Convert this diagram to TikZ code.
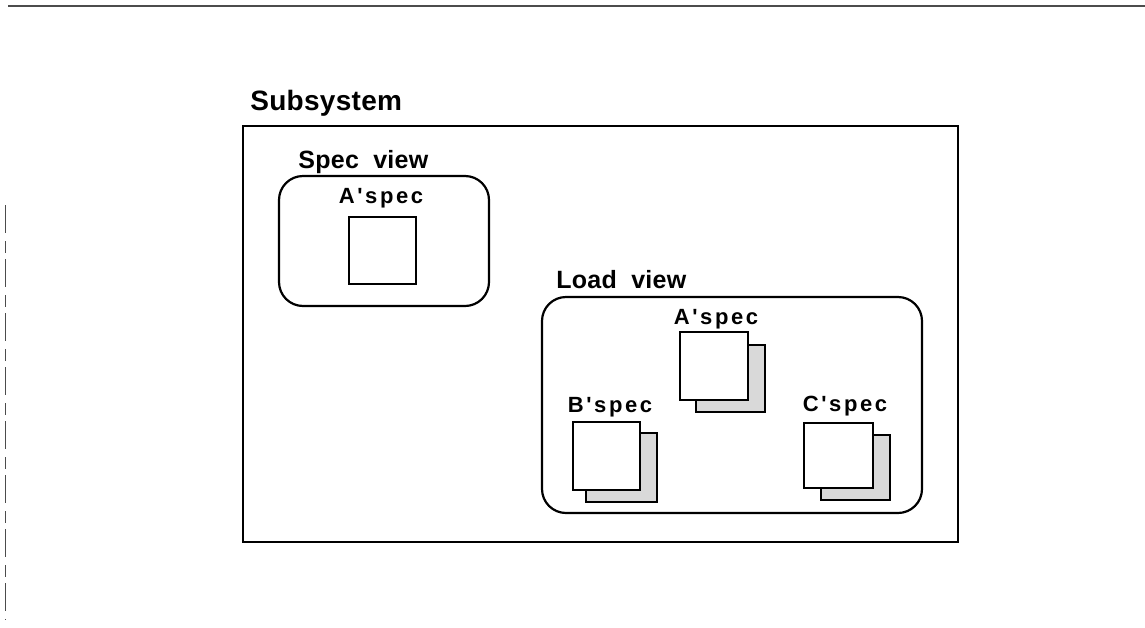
\documentclass[tikz,border=0pt]{standalone}
\usepackage{fontspec}
\setmainfont{Liberation Sans}
\newfontfamily\bigfont[LetterSpace=1]{Liberation Sans}
\newfontfamily\midfont[LetterSpace=1]{Liberation Sans}
\newfontfamily\smallfont[LetterSpace=12]{Liberation Sans}
\begin{document}
\begin{tikzpicture}[x=0.5pt,y=-0.5pt,
  frame/.style={draw=black,line width=1.1pt},
  view/.style={draw=black,line width=1.1pt,rounded corners=12pt},
  spec/.style={draw=black,line width=1.1pt,fill=white},
  shadow/.style={draw=black,line width=1.1pt,fill=gray!30},
  big/.style={font=\bigfont\fontsize{14}{16}\selectfont\bfseries,inner sep=0pt},
  mid/.style={font=\midfont\fontsize{12.5}{14}\selectfont\bfseries,inner sep=0pt},
  small/.style={font=\smallfont\fontsize{11}{13}\selectfont\bfseries,inner sep=0pt},
  scan/.style={draw=black!70,line width=0.5pt}]
\useasboundingbox (0,0) rectangle (1145,627);
% scan edges
\coordinate (t1) at (8,6); \coordinate (t2) at (1145,6);
\draw[scan,line width=0.8pt] (t1) -- (t2);
\coordinate (l1) at (5,205); \coordinate (l2) at (5,620);
\draw[scan,dash pattern=on 14pt off 4pt on 6pt off 3pt] (l1) -- (l2);
% outer frame
\coordinate (o1) at (243,126); \coordinate (o2) at (958,542);
\draw[frame] (o1) rectangle (o2);
\node[big,anchor=base west] (subsys) at (250,110) {Subsystem};
% spec view
\coordinate (s1) at (279,176); \coordinate (s2) at (489,306);
\draw[view] (s1) rectangle (s2);
\node[mid,anchor=base west] (specview) at (298,168) {Spec\ \ view};
\node[small,anchor=base] (aspec1) at (381,203) {A'spec};
\coordinate (sq1) at (349,217); \coordinate (sq2) at (416,284);
\draw[spec] (sq1) rectangle (sq2);
% load view
\coordinate (lv1) at (542,297); \coordinate (lv2) at (922,513);
\draw[view] (lv1) rectangle (lv2);
\node[mid,anchor=base west] (loadview) at (556,288) {Load\ \ view};
% A'spec load
\node[small,anchor=base] (aspec2) at (716,324) {A'spec};
\coordinate (a3) at (696,345); \coordinate (a4) at (765,412);
\draw[shadow] (a3) rectangle (a4);
\coordinate (a1) at (680,332); \coordinate (a2) at (748,400);
\draw[spec] (a1) rectangle (a2);
% B'spec
\node[small,anchor=base] (bspec) at (610,412) {B'spec};
\coordinate (b3) at (586,433); \coordinate (b4) at (657,502);
\draw[shadow] (b3) rectangle (b4);
\coordinate (b1) at (573,422); \coordinate (b2) at (640,490);
\draw[spec] (b1) rectangle (b2);
% C'spec
\node[small,anchor=base] (cspec) at (845,411) {C'spec};
\coordinate (c3) at (821,435); \coordinate (c4) at (890,500);
\draw[shadow] (c3) rectangle (c4);
\coordinate (c1) at (804,423); \coordinate (c2) at (873,488);
\draw[spec] (c1) rectangle (c2);
\end{tikzpicture}
\end{document}
